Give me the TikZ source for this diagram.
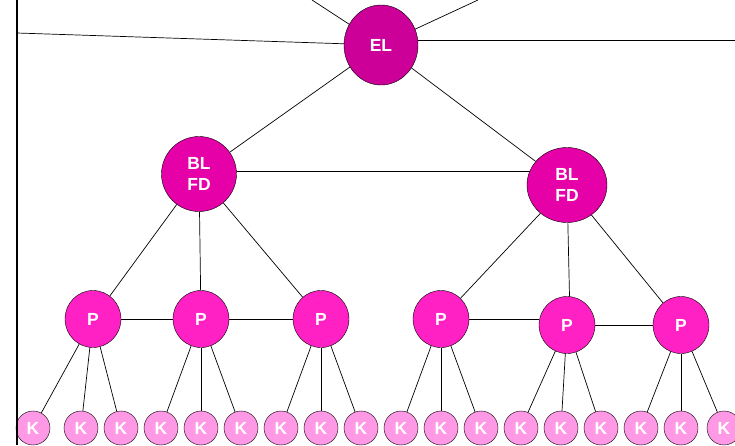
\documentclass[tikz,border=0pt]{standalone}
\usepackage{fontspec}
\setmainfont{Liberation Sans}
\usetikzlibrary{shapes.geometric}
\definecolor{mel}{rgb}{0.8, 0, 0.6}
\definecolor{mbl}{rgb}{0.9, 0, 0.66}
\definecolor{mp}{rgb}{1, 0.13, 0.77}
\definecolor{mk}{rgb}{1, 0.6, 0.9}
\tikzset{
  blob/.style={ellipse, draw, inner sep=0pt, text=white, align=center,
    font=\fontsize{17.5}{21}\selectfont\bfseries},
  elnode/.style={blob, fill=mel, minimum width=74pt, minimum height=80pt},
  blnode/.style={blob, fill=mbl, minimum width=75pt, minimum height=75pt},
  pnode/.style={blob, fill=mp, minimum width=56pt, minimum height=57pt},
  knode/.style={blob, fill=mk, minimum width=34pt, minimum height=34pt},
  link/.style={line width=0.7pt}
}

\begin{document}
\begin{tikzpicture}[x=1pt, y=-1pt]
    \useasboundingbox (0, 0) rectangle (735, 445);

    \node [elnode] (el) at (381, 45) {EL};
    \node [blnode] (blL) at (199, 174) {BL\\FD};
    \node [blnode, minimum width=80pt] (blR) at (567, 185) {BL\\FD};

    \node [pnode] (p1) at (93, 319) {P};
    \node [pnode] (p2) at (201, 319) {P};
    \node [pnode] (p3) at (321, 319) {P};
    \node [pnode] (p4) at (441, 319) {P};
    \node [pnode] (p5) at (567, 325) {P};
    \node [pnode] (p6) at (681, 325) {P};

    \node [knode] (k1) at (33, 428) {K};
    \node [knode] (k2) at (81, 428) {K};
    \node [knode] (k3) at (121, 428) {K};
    \node [knode] (k4) at (161, 428) {K};
    \node [knode] (k5) at (201, 428) {K};
    \node [knode] (k6) at (241, 428) {K};
    \node [knode] (k7) at (281, 428) {K};
    \node [knode] (k8) at (321, 428) {K};
    \node [knode] (k9) at (361, 428) {K};
    \node [knode] (k10) at (401, 428) {K};
    \node [knode] (k11) at (441, 428) {K};
    \node [knode] (k12) at (481, 428) {K};
    \node [knode] (k13) at (521, 428) {K};
    \node [knode] (k14) at (561, 428) {K};
    \node [knode] (k15) at (601, 428) {K};
    \node [knode] (k16) at (641, 428) {K};
    \node [knode] (k17) at (681, 428) {K};
    \node [knode] (k18) at (724, 428) {K};

    \coordinate (edgeTop) at (17, 0);
    \coordinate (edgeBot) at (17, 445);
    \coordinate (edgeL) at (17, 33);
    \coordinate (edgeR) at (735, 40);
    \coordinate (topL) at (312, 0);
    \coordinate (topR) at (478, 0);

    \draw [line width=2pt] (edgeTop) -- (edgeBot);
    \draw [link] (edgeL) -- (el);
    \draw [link] (el.east |- edgeR) -- (edgeR);
    \draw [link] (el) -- (topL);
    \draw [link] (el) -- (topR);

    \draw [link] (el) -- (blL);
    \draw [link] (el) -- (blR);
    \draw [link] (blR.160 -| blL.east) -- (blR.160);

    \draw [link] (blL) -- (p1);
    \draw [link] (blL) -- (p2);
    \draw [link] (blL) -- (p3);
    \draw [link] (blR) -- (p4);
    \draw [link] (blR) -- (p5.85);
    \draw [link] (blR) -- (p6);

    \draw [link] (p1) -- (p2);
    \draw [link] (p2) -- (p3);
    \draw [link] (p4.east) -- (p4.east -| p5.west);
    \draw [link] (p5) -- (p6);

    \draw [link] (p1) -- (k1);
    \draw [link] (p1) -- (k2);
    \draw [link] (p1) -- (k3);
    \draw [link] (p2) -- (k4);
    \draw [link] (p2) -- (k5);
    \draw [link] (p2) -- (k6);
    \draw [link] (p3) -- (k7);
    \draw [link] (p3) -- (k8);
    \draw [link] (p3) -- (k9);
    \draw [link] (p4) -- (k10);
    \draw [link] (p4) -- (k11);
    \draw [link] (p4) -- (k12);
    \draw [link] (p5) -- (k13);
    \draw [link] (p5) -- (k14);
    \draw [link] (p5) -- (k15);
    \draw [link] (p6) -- (k16);
    \draw [link] (p6) -- (k17);
    \draw [link] (p6) -- (k18);
  \end{tikzpicture}
\end{document}
